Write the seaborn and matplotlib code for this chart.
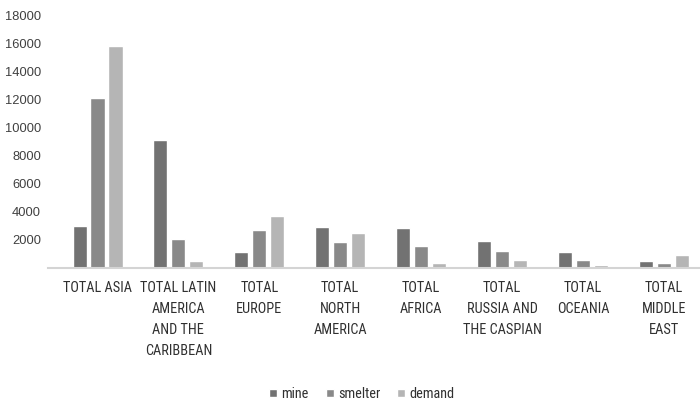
import matplotlib
matplotlib.use("Agg")
import os
import matplotlib.pyplot as plt
import seaborn as sns
import pandas as pd
from matplotlib.font_manager import fontManager, FontProperties

categories = ["TOTAL ASIA", "TOTAL LATIN\nAMERICA\nAND THE\nCARIBBEAN", "TOTAL\nEUROPE",
              "TOTAL\nNORTH\nAMERICA", "TOTAL\nAFRICA", "TOTAL\nRUSSIA AND\nTHE CASPIAN",
              "TOTAL\nOCEANIA", "TOTAL\nMIDDLE\nEAST"]
mine = [3000, 9150, 1100, 2880, 2800, 1880, 1110, 440]
smelter = [12100, 2050, 2650, 1800, 1520, 1180, 520, 340]
demand = [15850, 500, 3700, 2500, 300, 520, 180, 920]
series = ["mine", "smelter", "demand"]
yticks = [2000, 4000, 6000, 8000, 10000, 12000, 14000, 16000, 18000]


def find_narrow():
    prefs = ["liberationsansnarrow-regular", "robotocondensed-regular", "opensanscondensed",
             "dejavusanscondensed.", "notosanscondensed-regular", "notosans-condensed"]
    files = [(f.fname, f.name, f.stretch, f.weight, f.style) for f in fontManager.ttflist]
    for p in prefs:
        for fn, name, st, w, sty in files:
            if p in os.path.basename(fn).lower().replace(" ", "") and sty == "normal":
                return fn
    for fn, name, st, w, sty in files:
        if st in ("condensed", "semi-condensed") and sty == "normal" and w in (400, "normal"):
            return fn
    return None


narrow_file = find_narrow()

rows = []
for i, c in enumerate(categories):
    for s, vals in zip(series, [mine, smelter, demand]):
        rows.append({"region": c, "series": s, "value": vals[i]})
df = pd.DataFrame(rows)

sns.set_theme(style="white")
plt.rcParams["font.family"] = ["Liberation Sans", "DejaVu Sans"]

fig = plt.figure(figsize=(7.0, 4.11), dpi=100)
ax = fig.add_axes([48 / 700, (411 - 267.5) / 411, 652 / 700, 251.8 / 411])

palette = {"mine": "#727272", "smelter": "#898989", "demand": "#b5b5b5"}
sns.barplot(data=df, x="region", y="value", hue="series", order=categories,
            hue_order=series, palette=palette, width=0.667, gap=0.22,
            saturation=1, ax=ax, legend=True)

ax.set_xlim(-0.612, 7.447)
ax.set_ylim(0, 18000)
ax.set_yticks(yticks)
ax.set_yticklabels([str(v) for v in yticks], fontfamily="Liberation Sans",
                   fontsize=9.3, color="#404040")

# choose x label font and size so that "TOTAL ASIA" is ~69 px wide
if narrow_file:
    xfp = FontProperties(fname=narrow_file)
else:
    xfp = FontProperties(family="Liberation Sans")
xfp.set_size(10)
renderer = fig.canvas.get_renderer()
probe = fig.text(0, 0, "TOTAL ASIA", fontproperties=xfp)
w = probe.get_window_extent(renderer).width
probe.remove()
xsize = min(11.0, 10 * 69.0 / w)
xfp.set_size(xsize)
lfp = xfp.copy()

ax.set_xticks(range(len(categories)))
ax.set_xticklabels(categories, fontproperties=xfp, color="#303030", linespacing=1.63)
ax.tick_params(axis="x", length=0, pad=10)
ax.tick_params(axis="y", length=0, pad=5)
ax.set_xlabel("")
ax.set_ylabel("")
for side in ["top", "right", "left"]:
    ax.spines[side].set_visible(False)
ax.spines["bottom"].set_color("#d4d4d4")
ax.spines["bottom"].set_linewidth(1.5)
ax.grid(False)

handles, labels = ax.get_legend_handles_labels()
ax.get_legend().remove()
fig.legend(handles, labels, loc="center", bbox_to_anchor=(362 / 700, 1 - 394 / 411),
           ncol=3, frameon=False, prop=lfp, handlelength=0.55, handleheight=0.55,
           handletextpad=0.3, columnspacing=1.2, labelcolor="#303030")

fig.savefig("out.png", dpi=100)
